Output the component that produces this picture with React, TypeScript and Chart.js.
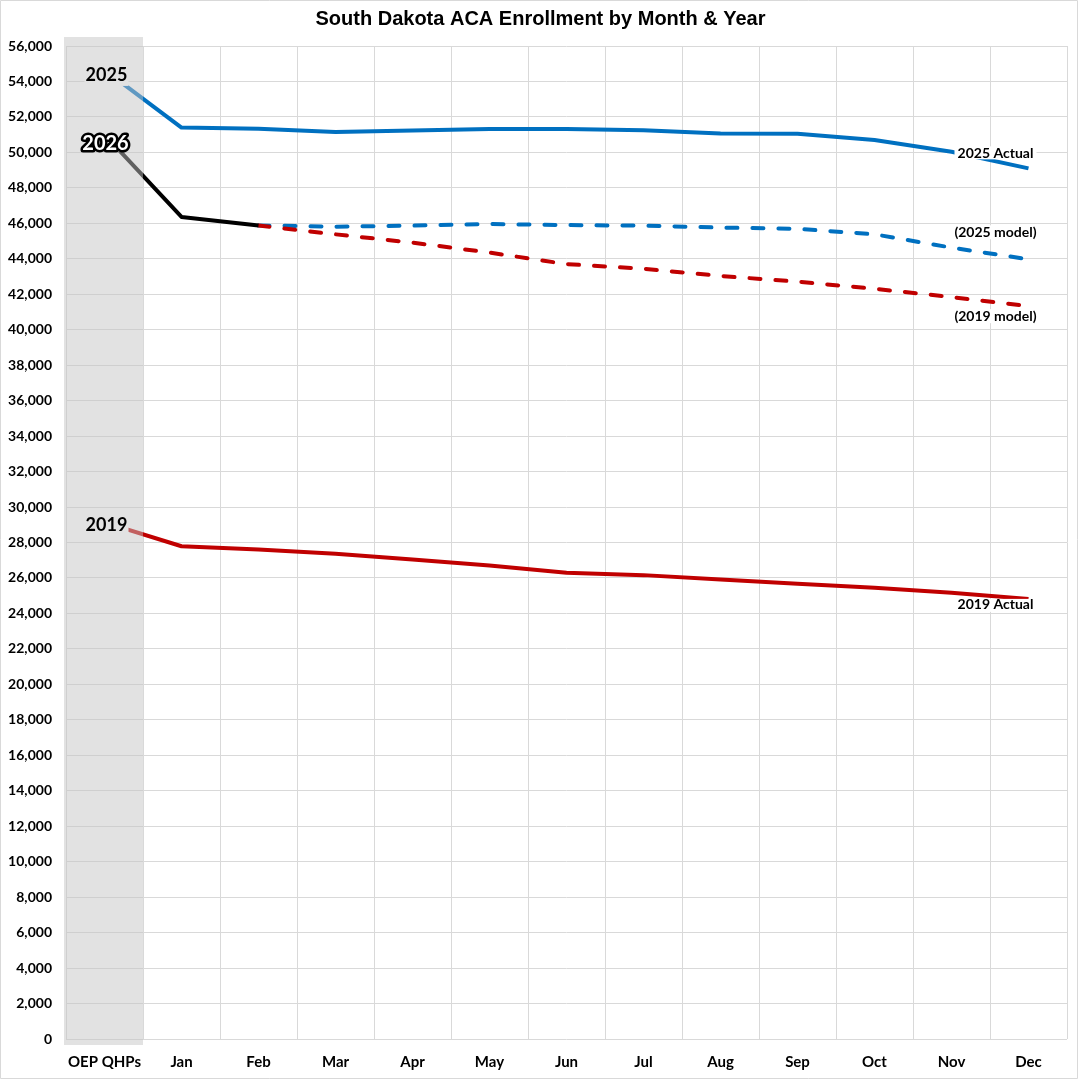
import { useEffect, useRef } from 'react'
import { Chart, registerables } from 'chart.js'

Chart.register(...registerables)

// ── Data ────────────────────────────────────────────────────────────────
const months = ['OEP QHPs', 'Jan', 'Feb', 'Mar', 'Apr', 'May', 'Jun', 'Jul', 'Aug', 'Sep', 'Oct', 'Nov', 'Dec']

const actual2025 = [54650, 51400, 51330, 51150, 51230, 51320, 51320, 51250, 51070, 51050, 50700, 50040, 49100]
const actual2026 = [51000, 46360, 45880, null, null, null, null, null, null, null, null, null, null]
const model2025  = [null, null, 45880, 45810, 45870, 45960, 45900, 45870, 45760, 45690, 45380, 44630, 43970]
const model2019  = [null, null, 45880, 45380, 44910, 44350, 43700, 43440, 43030, 42710, 42310, 41840, 41330]
const actual2019 = [29140, 27790, 27600, 27360, 27040, 26700, 26290, 26160, 25910, 25670, 25450, 25160, 24820]

const yMax  = 56000
const yStep = 2000

const TITLE = 'South Dakota ACA Enrollment by Month & Year'
const BLUE  = '#0070C0'
const RED   = '#C00000'
const GRID  = '#d9d9d9'
const FONT  = 'Lato, "Open Sans", sans-serif'

export default function App() {
  const canvasRef = useRef<HTMLCanvasElement>(null)
  const chartRef  = useRef<Chart | null>(null)

  useEffect(() => {
    document.body.style.margin = '0'
    if (!canvasRef.current) return
    const ctx = canvasRef.current.getContext('2d')
    if (!ctx) return

    // ── title, grey OEP band, point labels, outer frame ───────────────────
    const overlayPlugin = {
      id: 'overlay',
      afterDatasetsDraw(chart: any) {
        const { ctx: c, chartArea, scales } = chart
        const xs = scales.x, ys = scales.y
        const x0 = xs.getPixelForValue(0)
        const half = (xs.getPixelForValue(1) - x0) / 2
        const xDec = xs.getPixelForValue(months.length - 1)
        c.save()

        // translucent band over the OEP column
        c.fillStyle = 'rgba(196,196,196,0.49)'
        c.fillRect(chartArea.left - 2, chartArea.top - 9, x0 + half - chartArea.left + 2, chartArea.bottom - chartArea.top + 15)

        const boxLabel = (text: string, cx: number, cy: number, font: string, box: [number, number, number, number] | null, fill: string, outlined = false) => {
          if (box) {
            c.fillStyle = fill
            c.fillRect(cx + box[0], cy + box[1], box[2], box[3])
          }
          c.font = font
          c.textAlign = 'center'
          c.textBaseline = 'middle'
          if (outlined) {
            // white letters with a heavy black outline
            c.lineJoin = 'round'
            c.lineWidth = 5
            c.strokeStyle = '#000000'
            c.strokeText(text, cx, cy)
            c.fillStyle = '#ffffff'
          } else {
            c.fillStyle = '#000'
          }
          c.fillText(text, cx, cy)
        }

        // year labels at the OEP points
        boxLabel('2025', x0 + 2, ys.getPixelForValue(actual2025[0]) + 5, `bold 18px ${FONT}`, [-22, -12, 44, 23], '#e2e2e2')
        boxLabel('2019', x0 + 2, ys.getPixelForValue(actual2019[0]) + 3, `bold 18px ${FONT}`, [-22, -9, 44, 17], '#e2e2e2')
        boxLabel('2026', x0 + 1, ys.getPixelForValue(actual2026[0] as number) + 9, `bold 20px ${FONT}`, [-27, -15, 52, 23], '#e2e2e2', true)

        // series labels at the December end
        const rl = `bold 14px ${FONT}`
        const lx = xDec - 33
        boxLabel('2025 Actual', lx, ys.getPixelForValue(actual2025[12]) - 15, rl, [-41, -7, 82, 13], '#ffffff')
        boxLabel('(2025 model)', lx, ys.getPixelForValue(model2025[12] as number) - 27, rl, [-46, -7, 92, 14], '#ffffff')
        boxLabel('(2019 model)', lx, ys.getPixelForValue(model2019[12] as number) + 10, rl, [-46, -7, 92, 14], '#ffffff')
        boxLabel('2019 Actual', lx, ys.getPixelForValue(actual2019[12]) + 6, rl, [-41, -6, 82, 13], '#ffffff')

        // title
        c.font = 'bold 20px "Liberation Sans", Arial, sans-serif'
        c.fillStyle = '#000'
        c.textAlign = 'center'
        c.textBaseline = 'middle'
        c.fillText(TITLE, chart.width / 2, 19)

        // frame round the chart
        c.strokeStyle = GRID
        c.lineWidth = 1
        c.strokeRect(0.5, 0.5, chart.width - 4, chart.height - 2)
        c.restore()
      },
    }

    const line = (label: string, data: (number | null)[], color: string, order: number, dashed = false) => ({
      label,
      data,
      borderColor: color,
      backgroundColor: color,
      borderWidth: 4,
      borderDash: dashed ? [11, 15] : [],
      borderCapStyle: dashed ? 'round' : 'butt',
      borderJoinStyle: 'round',
      pointRadius: 0,
      fill: false,
      tension: 0,
      spanGaps: false,
      order,
    })

    chartRef.current = new Chart(ctx, {
      type: 'line',
      plugins: [overlayPlugin],
      data: {
        labels: months,
        datasets: [
          line('2026', actual2026, '#000000', 0),
          line('(2019 model)', model2019, RED, 1, true),
          line('(2025 model)', model2025, BLUE, 2, true),
          line('2025 Actual', actual2025, BLUE, 3),
          line('2019 Actual', actual2019, RED, 4),
        ],
      },
      options: {
        responsive: true,
        maintainAspectRatio: false,
        animation: false,
        layout: { padding: { top: 46, right: 14, left: 0, bottom: 0 } },
        plugins: {
          legend: { display: false },
          title: { display: false },
          tooltip: { enabled: false },
        },
        scales: {
          x: {
            type: 'category',
            offset: true,
            grid: { offset: true, color: GRID, drawTicks: false },
            border: { display: false },
            ticks: {
              color: '#000',
              padding: 14,
              maxRotation: 0,
              autoSkip: false,
              font: { family: FONT, size: 15, weight: 'bold' },
            },
            afterFit: (s: any) => { s.height = 41 },
          },
          y: {
            min: 0,
            max: yMax,
            grid: { color: GRID, drawTicks: false },
            border: { display: false },
            ticks: {
              stepSize: yStep,
              color: '#000',
              padding: 14,
              font: { family: FONT, size: 14, weight: 'bold' },
              callback: (v: any) => Number(v).toLocaleString('en-US'),
            },
            afterFit: (s: any) => { s.width = 66 },
          },
        },
      },
    } as any)

    return () => { chartRef.current?.destroy(); chartRef.current = null }
  }, [])

  return (
    <div style={{ position: 'relative', width: 1081, height: 1080, background: '#fff' }}>
      <canvas ref={canvasRef} role="img" aria-label={TITLE} />
    </div>
  )
}
